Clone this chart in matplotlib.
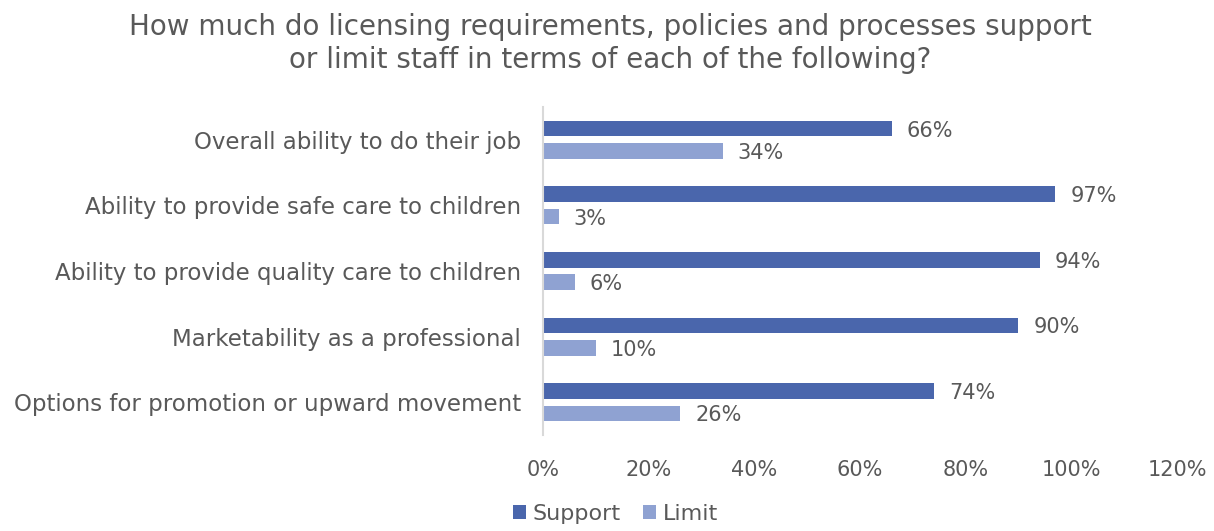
import matplotlib
matplotlib.use("Agg")
import matplotlib.pyplot as plt
import numpy as np

categories = [
    "Overall ability to do their job",
    "Ability to provide safe care to children",
    "Ability to provide quality care to children",
    "Marketability as a professional",
    "Options for promotion or upward movement",
]
support = [66, 97, 94, 90, 74]
limit = [34, 3, 6, 10, 26]
xticks = [0, 20, 40, 60, 80, 100, 120]

C_SUPPORT = "#4A66AC"
C_LIMIT = "#8FA2D2"
TXT = "#595959"

plt.rcParams["font.family"] = ["DejaVu Sans"]

fig = plt.figure(figsize=(12.14, 5.31), dpi=100)
ax = fig.add_axes([0.4473, 0.1808, 0.5222, 0.6177])

y = np.arange(len(categories))
off = 0.171
h = 0.236
b1 = ax.barh(y - off, support, height=h, color=C_SUPPORT, label="Support")
b2 = ax.barh(y + off, limit, height=h, color=C_LIMIT, label="Limit")

for bars, vals in ((b1, support), (b2, limit)):
    for rect, v in zip(bars, vals):
        ax.text(v + 2.8, rect.get_y() + rect.get_height() / 2 + 0.03, f"{v}%",
                va="center", ha="left", fontsize=15, color=TXT)

ax.set_xlim(0, 120)
ax.set_ylim(len(categories) - 0.5, -0.5)
ax.set_xticks(xticks)
ax.set_xticklabels([f"{t}%" for t in xticks])
ax.set_yticks(y)
ax.set_yticklabels(categories)
ax.tick_params(axis="x", length=0, labelsize=15, colors=TXT, pad=18)
ax.tick_params(axis="y", length=0, labelsize=16.5, colors=TXT, pad=16)
for s in ["top", "right", "bottom"]:
    ax.spines[s].set_visible(False)
ax.spines["left"].set_color("#D9D9D9")
ax.spines["left"].set_linewidth(1.5)

fig.text(0.503, 0.975, "How much do licensing requirements, policies and processes support\nor limit staff in terms of each of the following?",
         ha="center", va="top", fontsize=20, color=TXT, linespacing=1.2)

leg = fig.legend(handles=[b1, b2], labels=["Support", "Limit"], loc="lower center",
                 bbox_to_anchor=(0.507, -0.025), ncol=2, frameon=False,
                 fontsize=16, labelcolor=TXT, handlelength=0.6, handleheight=0.6,
                 handletextpad=0.3, columnspacing=1.0)

fig.savefig("out.png", dpi=100, facecolor="white")
